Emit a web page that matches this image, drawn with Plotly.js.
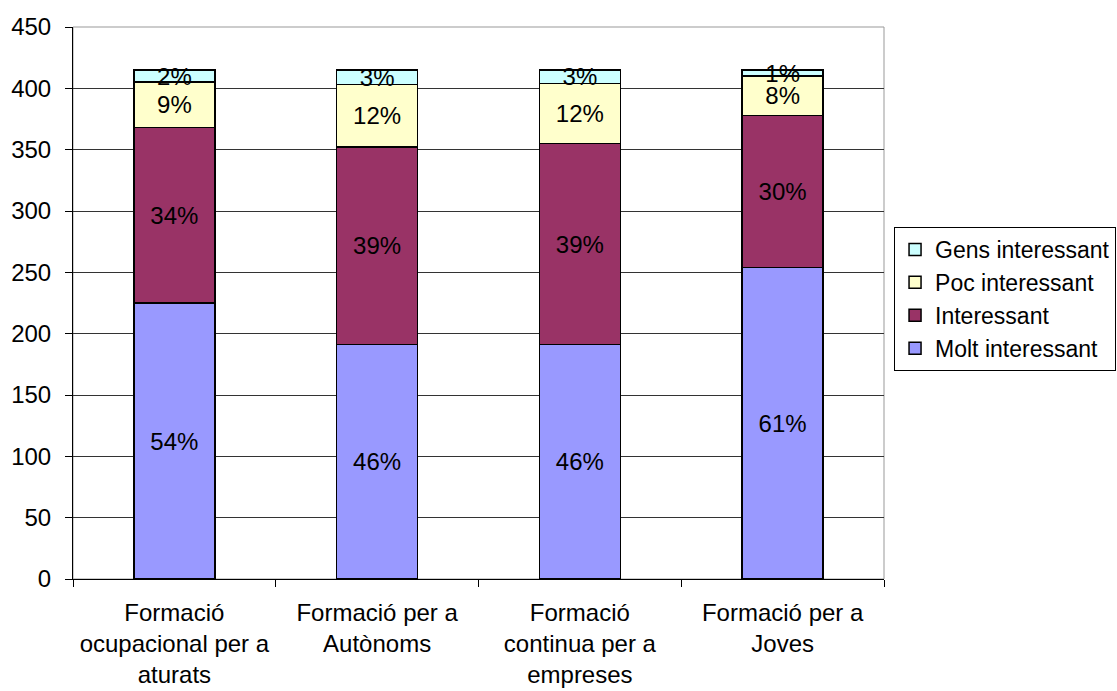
<!DOCTYPE html>
<html>
<head>
<meta charset="utf-8">
<script src="https://cdn.plot.ly/plotly-3.0.1.min.js"></script>
<style>html,body{margin:0;padding:0;background:#fff;}#chart{width:1117px;height:691px;}</style>
</head>
<body>
<div id="chart"></div>
<script>
const categories = [
  "Formació<br>ocupacional per a<br>aturats",
  "Formació per a<br>Autònoms",
  "Formació<br>continua per a<br>empreses",
  "Formació per a<br>Joves"
];
const moltInteressant = [225, 191, 191, 254];
const interessant = [143, 161, 164, 124];
const pocInteressant = [37, 51, 49, 32];
const gensInteressant = [10, 12, 11, 5];
const moltPct = ["54%", "46%", "46%", "61%"];
const interessantPct = ["34%", "39%", "39%", "30%"];
const pocPct = ["9%", "12%", "12%", "8%"];
const gensPct = ["2%", "3%", "3%", "1%"];

const font = "Liberation Sans, Arial, sans-serif";
function mk(name, y, text, color) {
  return {
    type: "bar", name: name, legendgroup: name, x: categories, y: y, text: text,
    textposition: "inside", insidetextanchor: "middle", constraintext: "none",
    textfont: {family: font, size: 24, color: "#000"},
    marker: {color: color, line: {color: "#000", width: 1.5}},
    hoverinfo: "skip"
  };
}
const data = [
  mk("Molt interessant", moltInteressant, moltPct, "#9999FF"),
  mk("Interessant", interessant, interessantPct, "#993366"),
  mk("Poc interessant", pocInteressant, pocPct, "#FFFFCC"),
  mk("Gens interessant", gensInteressant, gensPct, "#CCFFFF")
];
const layout = {
  width: 1117, height: 691,
  margin: {l: 73, r: 233, t: 27, b: 112},
  barmode: "stack", bargap: 0.6,
  paper_bgcolor: "#fff", plot_bgcolor: "#fff",
  font: {family: font, size: 24, color: "#000"},
  showlegend: true,
  legend: {
    xref: "container", yref: "container",
    x: 0.8004, xanchor: "left", y: 0.6715, yanchor: "top",
    traceorder: "reversed", tracegroupgap: 9,
    bordercolor: "#000", borderwidth: 1, bgcolor: "#fff",
    font: {family: font, size: 23, color: "#000"}, itemwidth: 30
  },
  xaxis: {
    showline: true, linecolor: "#000", linewidth: 1,
    ticks: "outside", ticklen: 7, tickcolor: "#000", tickson: "boundaries",
    tickangle: 0, automargin: false, ticklabelstandoff: 12,
    tickfont: {family: font, size: 24, color: "#000"},
    fixedrange: true
  },
  yaxis: {
    range: [0, 450], dtick: 50, showline: true, linecolor: "#000", linewidth: 1,
    ticks: "outside", ticklen: 7, tickcolor: "#000", automargin: false,
    showgrid: true, gridcolor: "#333", gridwidth: 1, zeroline: false,
    tickfont: {family: font, size: 24, color: "#000"}, ticklabelstandoff: 9,
    fixedrange: true
  },
  shapes: [{
    type: "rect", xref: "paper", yref: "paper", x0: 0, x1: 1, y0: 0, y1: 1,
    line: {color: "#999", width: 1}, layer: "below"
  }]
};
Plotly.newPlot("chart", data, layout, {displayModeBar: false, staticPlot: true});
</script>
</body>
</html>
